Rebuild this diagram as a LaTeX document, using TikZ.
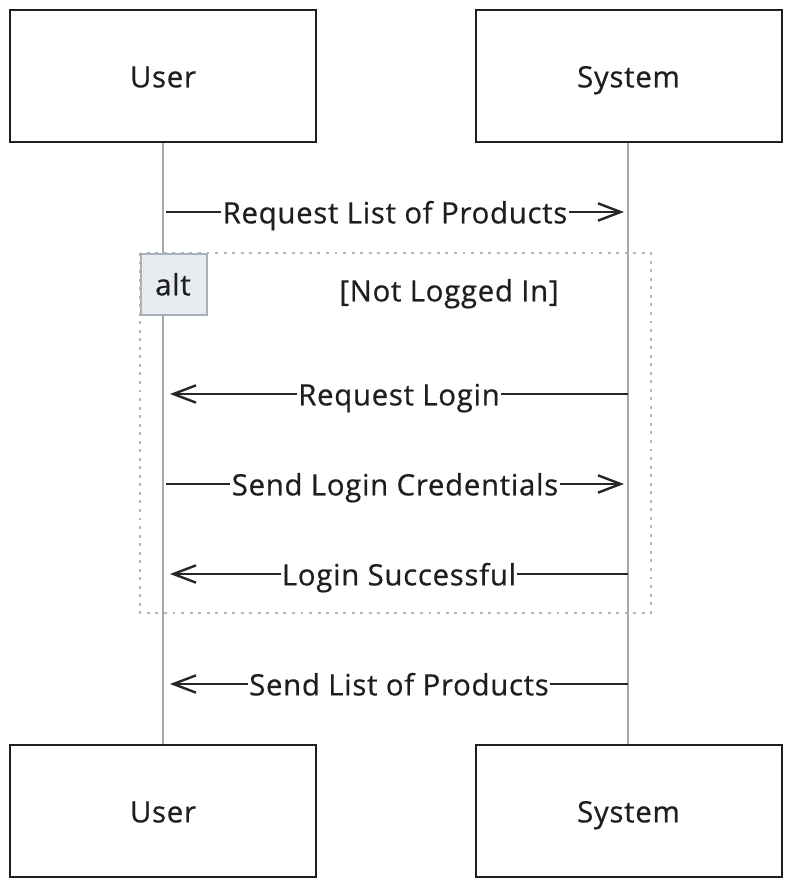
\documentclass[tikz,border=0pt]{standalone}
\usepackage{fontspec}
\setmainfont{Open Sans}[LetterSpace=2.5,FakeBold=0.6]
\usetikzlibrary{arrows.meta}
\definecolor{ink}{HTML}{1E1E1E}
\definecolor{msg}{HTML}{262626}
\definecolor{life}{HTML}{A8A8A8}
\definecolor{altfill}{HTML}{E8ECF0}
\definecolor{altdraw}{HTML}{A9B0B8}
\definecolor{dots}{HTML}{AEB4BA}
\begin{document}
\begin{tikzpicture}[x=0.75pt,y=-0.75pt,
  txt/.style={font=\fontsize{22}{26}\selectfont,text=ink,text height=16pt,text depth=5pt},
  actor/.style={draw=ink,line width=1.5pt,fill=white,minimum width=229.5pt,minimum height=99pt,inner sep=0pt},
  lifeline/.style={draw=life,line width=0.8pt},
  message/.style={draw=msg,line width=2.1pt,-{Straight Barb[length=17pt,width=13pt,line width=1.8pt]}},
  msglabel/.style={txt,fill=white,inner sep=1pt,yshift=-3pt},
  frame/.style={draw=dots,line width=1.6pt,dash pattern=on 2.2pt off 4.2pt},
  altbox/.style={draw=altdraw,line width=1.2pt,fill=altfill,minimum width=49.5pt,minimum height=45.75pt,inner sep=0pt}]
\useasboundingbox (0,0) rectangle (791,887);
\fill[white] (0,0) rectangle (791,887);
% lifelines
\coordinate (ut) at (163,142);
\coordinate (ub) at (163,744);
\coordinate (st) at (628,142);
\coordinate (sb) at (628,744);
\draw[lifeline] (ut) -- (ub);
\draw[lifeline] (st) -- (sb);
% actors
\node[actor] (user1) at (163,76) {};
\node[actor] (sys1) at (628.5,76) {};
\node[actor] (user2) at (163,811) {};
\node[actor] (sys2) at (628.5,811) {};
\node[txt] (tu1) at (163,80) {User};
\node[txt] (ts1) at (628.5,80) {System};
\node[txt] (tu2) at (163,815) {User};
\node[txt] (ts2) at (628.5,815) {System};
% alt frame
\draw[frame] (140,253) rectangle (651,613);
\node[altbox,anchor=north west] (alt) at (140,253) {};
\node[txt] (altt) at (173,288) {alt};
\node[txt] (cond) at (449,294) {[Not Logged In]};
% messages
\coordinate (m1a) at (166,212); \coordinate (m1b) at (624,212);
\draw[message] (m1a) -- node[msglabel] {Request List of Products} (m1b);
\coordinate (m2a) at (628,394); \coordinate (m2b) at (170,394);
\draw[message] (m2a) -- node[msglabel] {Request Login} (m2b);
\coordinate (m3a) at (166,484); \coordinate (m3b) at (624,484);
\draw[message] (m3a) -- node[msglabel] {Send Login Credentials} (m3b);
\coordinate (m4a) at (628,574); \coordinate (m4b) at (170,574);
\draw[message,line width=1.3pt] (m4a) -- node[msglabel] {Login Successful} (m4b);
\coordinate (m5a) at (628,684); \coordinate (m5b) at (170,684);
\draw[message] (m5a) -- node[msglabel] {Send List of Products} (m5b);
\end{tikzpicture}
\end{document}
